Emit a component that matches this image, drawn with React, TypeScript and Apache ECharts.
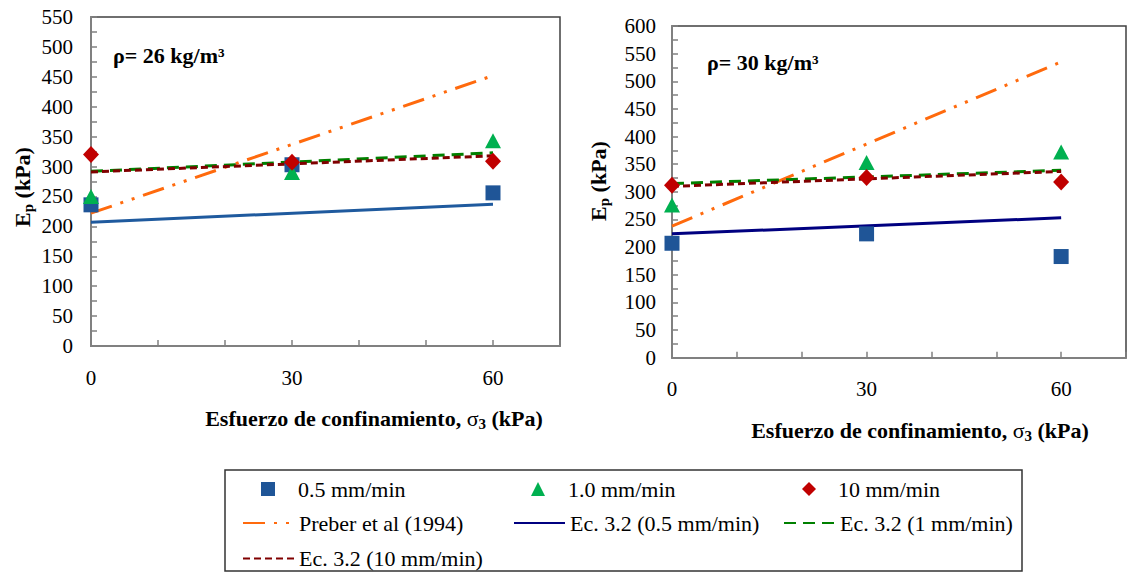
import React, { useEffect, useRef } from "react";
import * as echarts from "echarts";

// ---- data ----
const X_POINTS = [0, 30, 60];
const X_LINE = [0, 60];

// rho = 26 kg/m3 (left chart)
const sq26 = [236, 303, 256];
const tri26 = [250, 290, 343];
const dia26 = [320, 307, 309];
const preber26 = [222, 452];
const ec05_26 = [207, 237];
const ec1_26 = [292, 323];
const ec10_26 = [291, 318];

// rho = 30 kg/m3 (right chart)
const sq30 = [207, 224, 183];
const tri30 = [276, 353, 372];
const dia30 = [312, 326, 318];
const preber30 = [238, 535];
const ec05_30 = [224, 253];
const ec1_30 = [315, 339];
const ec10_30 = [310, 337];

const X_TICK_LABELS = [0, 30, 60];

const N_SQ = "0.5 mm/min";
const N_TRI = "1.0 mm/min";
const N_DIA = "10 mm/min";
const N_PRE = "Preber et al (1994)";
const N_E05 = "Ec. 3.2 (0.5 mm/min)";
const N_E1 = "Ec. 3.2 (1 mm/min)";
const N_E10 = "Ec. 3.2 (10 mm/min)";

const FONT = "Liberation Serif, Times New Roman, serif";
const AXIS_GRAY = "#808080";

const pts = (xs: number[], ys: number[]) => xs.map((x, i) => [x, ys[i]]);

function makeSeries(g: number, sq: number[], tri: number[], dia: number[], pre: number[], e05: number[], e1: number[], e10: number[], e05Color: string) {
  return [
    {
      name: N_PRE, type: "line", xAxisIndex: g, yAxisIndex: g, data: pts(X_LINE, pre),
      symbol: "none", z: 2,
      lineStyle: { color: "#FF6A0D", width: 3, type: [22, 9, 3, 9, 3, 9] },
      itemStyle: { color: "#FF6A0D" },
    },
    {
      name: N_E05, type: "line", xAxisIndex: g, yAxisIndex: g, data: pts(X_LINE, e05),
      symbol: "none", z: 2,
      lineStyle: { color: e05Color, width: 3, type: "solid" },
      itemStyle: { color: e05Color },
    },
    {
      name: N_E1, type: "line", xAxisIndex: g, yAxisIndex: g, data: pts(X_LINE, e1),
      symbol: "none", z: 2,
      lineStyle: { color: "#008000", width: 3, type: [12, 7] },
      itemStyle: { color: "#008000" },
    },
    {
      name: N_E10, type: "line", xAxisIndex: g, yAxisIndex: g, data: pts(X_LINE, e10),
      symbol: "none", z: 3,
      lineStyle: { color: "#800000", width: 3, type: [7, 4] },
      itemStyle: { color: "#800000" },
    },
    {
      name: N_SQ, type: "scatter", xAxisIndex: g, yAxisIndex: g, data: pts(X_POINTS, sq),
      symbol: "rect", symbolSize: 15, z: 4, itemStyle: { color: "#1F5597", opacity: 1 },
    },
    {
      name: N_TRI, type: "scatter", xAxisIndex: g, yAxisIndex: g, data: pts(X_POINTS, tri),
      symbol: "triangle", symbolSize: [16, 15], z: 5, itemStyle: { color: "#00B050", opacity: 1 },
    },
    {
      name: N_DIA, type: "scatter", xAxisIndex: g, yAxisIndex: g, data: pts(X_POINTS, dia),
      symbol: "diamond", symbolSize: [16, 17], z: 6, itemStyle: { color: "#C00000", opacity: 1 },
    },
  ];
}

function xAxisOpt(g: number) {
  return {
    type: "value", gridIndex: g, min: 0, max: 70, interval: 10,
    axisLine: { show: true, onZero: false, lineStyle: { color: AXIS_GRAY, width: 2 } },
    axisTick: { show: true, inside: true, length: 6, lineStyle: { color: AXIS_GRAY, width: 1.5 } },
    axisLabel: {
      show: true, margin: 21, color: "#000", fontSize: 21, fontFamily: FONT,
      formatter: (v: number) => (X_TICK_LABELS.indexOf(v) >= 0 ? String(v) : ""),
    },
    splitLine: { show: false },
  };
}

function yAxisOpt(g: number, max: number, margin: number, fs: number) {
  return {
    type: "value", gridIndex: g, min: 0, max, interval: 50,
    axisLine: { show: true, onZero: false, lineStyle: { color: AXIS_GRAY, width: 2 } },
    axisTick: { show: true, inside: true, length: 6, lineStyle: { color: AXIS_GRAY, width: 1.5 } },
    minorTick: { show: true, splitNumber: 2, length: 6, lineStyle: { color: AXIS_GRAY, width: 1.5 } },
    axisLabel: { show: true, margin, color: "#000", fontSize: fs, fontFamily: FONT },
    splitLine: { show: false },
    minorSplitLine: { show: false },
  };
}

const richAxis = {
  b: { fontSize: 22, fontWeight: "bold", fontFamily: FONT, fill: "#000", color: "#000", lineHeight: 26 },
  g: { fontSize: 22, fontWeight: "normal", fontFamily: FONT, fill: "#000", color: "#000", lineHeight: 26 },
  s: { fontSize: 15, fontWeight: "bold", fontFamily: FONT, fill: "#000", color: "#000", verticalAlign: "bottom" },
};

function nameText(x: number, y: number, text: string, rotation: number) {
  return {
    type: "text", x, y, rotation, z: 10,
    style: {
      text, rich: richAxis, fill: "#000",
      align: "center", verticalAlign: "middle",
      textAlign: "center", textVerticalAlign: "middle",
    },
  };
}

function titleText(x: number, y: number, text: string) {
  return {
    type: "text", x, y, z: 10,
    style: {
      text, fill: "#000", fontSize: 22, fontWeight: "bold", fontFamily: FONT,
      align: "left", verticalAlign: "middle", textAlign: "left", textVerticalAlign: "middle",
    },
  };
}

const LEG_FS = 22;

// legend for a scatter item: small icon centred at cx, text starting at textX
function pointLegend(cx: number, textX: number, name: string) {
  const w = 14;
  const left = cx - w / 2;
  return {
    show: true, orient: "horizontal", left, top: 478, itemWidth: w, itemHeight: 14,
    selectedMode: false, padding: 0,
    textStyle: { fontSize: LEG_FS, fontFamily: FONT, color: "#000", lineHeight: 20, padding: [0, 0, 0, textX - (left + w + 5)] },
    data: [name],
  };
}

function lineLegend(left: number, names: string[]) {
  return {
    show: true, orient: "vertical", left, top: 512, itemGap: 13.5,
    itemWidth: 51, itemHeight: 14, selectedMode: false, padding: 0,
    itemStyle: { opacity: 0 },
    textStyle: { fontSize: LEG_FS, fontFamily: FONT, color: "#000", lineHeight: 20 },
    data: names,
  };
}

export default function App() {
  const ref = useRef<HTMLDivElement>(null);
  useEffect(() => {
    if (!ref.current) return;
    const chart = echarts.init(ref.current, undefined, { renderer: "svg" });
    const option: any = {
      animation: false,
      backgroundColor: "#fff",
      textStyle: { fontFamily: FONT },
      grid: [
        { left: 91, top: 17, width: 469, height: 329, show: true, borderColor: "#404040", borderWidth: 1.5, backgroundColor: "transparent" },
        { left: 672, top: 26, width: 465.5, height: 331.7, show: true, borderColor: "#404040", borderWidth: 1.5, backgroundColor: "transparent" },
      ],
      xAxis: [xAxisOpt(0), xAxisOpt(1)],
      yAxis: [yAxisOpt(0, 550, 18, 21), yAxisOpt(1, 600, 16, 21)],
      legend: [
        pointLegend(268, 298, N_SQ),
        pointLegend(538, 568, N_TRI),
        pointLegend(809, 838, N_DIA),
        lineLegend(242, [N_PRE, N_E10]),
        lineLegend(513, [N_E05]),
        lineLegend(783, [N_E1]),
      ],
      graphic: [
        titleText(113, 55, "ρ= 26 kg/m³"),
        titleText(707, 62, "ρ= 30 kg/m³"),
        nameText(22, 187, "{b|E}{s|p}{b| (kPa)}", Math.PI / 2),
        nameText(598, 181, "{b|E}{s|p}{b| (kPa)}", Math.PI / 2),
        nameText(374, 418, "{b|Esfuerzo de confinamiento, }{g|σ}{s|3}{b| (kPa)}", 0),
        nameText(920, 430, "{b|Esfuerzo de confinamiento, }{g|σ}{s|3}{b| (kPa)}", 0),
        {
          type: "rect", z: 1,
          shape: { x: 225, y: 470, width: 797, height: 101 },
          style: { fill: "none", stroke: "#333", lineWidth: 1.5 },
        },
      ],
      series: [
        ...makeSeries(1, sq30, tri30, dia30, preber30, ec05_30, ec1_30, ec10_30, "#000080"),
        ...makeSeries(0, sq26, tri26, dia26, preber26, ec05_26, ec1_26, ec10_26, "#1F5A9E"),
      ],
    };
    chart.setOption(option);
    return () => chart.dispose();
  }, []);
  return (
    <div
      ref={ref}
      style={{ position: "absolute", left: 0, top: 0, width: 1129, height: 572, background: "#fff" }}
    />
  );
}
